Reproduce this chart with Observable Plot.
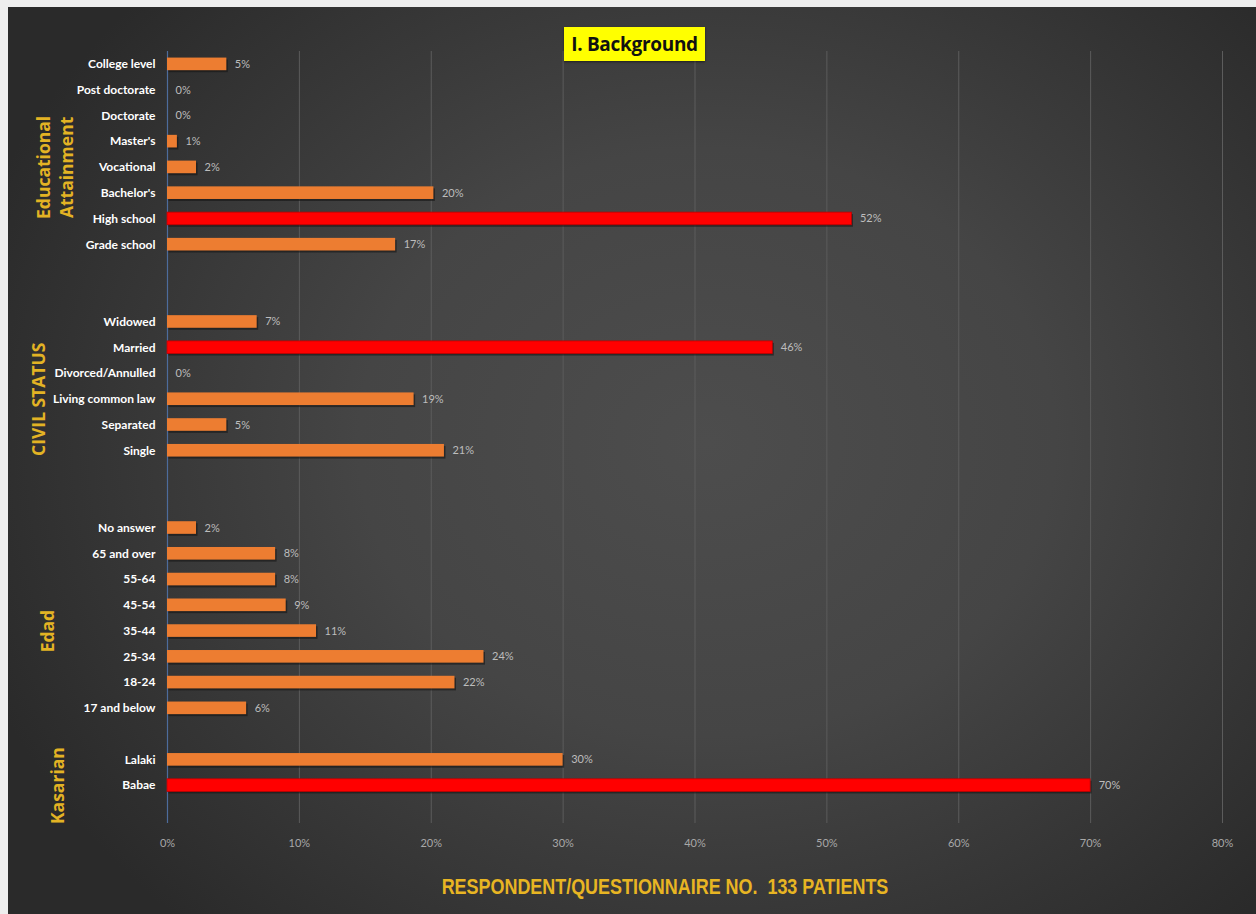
<!DOCTYPE html>
<html>
<head>
<meta charset="utf-8">
<script src="https://cdn.jsdelivr.net/npm/d3@7"></script>
<script src="https://cdn.jsdelivr.net/npm/@observablehq/plot@0.6"></script>
<style>
  html, body { margin: 0; padding: 0; background: #eeeeee; width: 1256px; height: 914px; overflow: hidden; }
  #panel { position: absolute; left: 8px; top: 7px; width: 1248px; height: 907px;
    background: radial-gradient(ellipse 62% 72% at 56% 48%, #4d4d4d 0%, #454545 45%, #2a2a2a 100%); }
  #chart { position: absolute; left: 0; top: 0; }
  #title { position: absolute; left: 564px; top: 27px; width: 141px; height: 34px; background: #ffff00;
    font-family: "Open Sans", sans-serif; font-weight: bold; font-size: 19px; line-height: 34px;
    text-align: center; color: #111; box-shadow: 0 1px 2px rgba(0,0,0,0.5); letter-spacing: -0.3px; }
  #caption { position: absolute; left: 365px; width: 600px; top: 874px; text-align: center; white-space: pre;
    font-family: "Liberation Sans", sans-serif; font-weight: bold; font-size: 22px; color: #e8b523;
    transform: scaleX(0.815); transform-origin: 300px 50%; }
</style>
</head>
<body>
<div id="panel"></div>
<div id="chart"></div>
<div id="title">I. Background</div>
<div id="caption">RESPONDENT/QUESTIONNAIRE NO.  133 PATIENTS</div>
<script>
// ---- data ----
const eduLabels = ["College level", "Post doctorate", "Doctorate", "Master's", "Vocational", "Bachelor's", "High school", "Grade school"];
const eduValues = [0.045, 0, 0, 0.0075, 0.022, 0.202, 0.519, 0.173];
const civilLabels = ["Widowed", "Married", "Divorced/Annulled", "Living common law", "Separated", "Single"];
const civilValues = [0.068, 0.459, 0, 0.187, 0.045, 0.21];
const ageLabels = ["No answer", "65 and over", "55-64", "45-54", "35-44", "25-34", "18-24", "17 and below"];
const ageValues = [0.022, 0.082, 0.082, 0.09, 0.113, 0.24, 0.218, 0.06];
const sexLabels = ["Lalaki", "Babae"];
const sexValues = [0.30, 0.70];
const highlighted = ["High school", "Married", "Babae"];
const groupNames = ["Educational\nAttainment", "CIVIL STATUS", "Edad", "Kasarian"];
const groupAnchors = ["Vocational", "Living common law", "35-44", "Babae"];
const xTickValues = [0, 0.1, 0.2, 0.3, 0.4, 0.5, 0.6, 0.7, 0.8];
const xTickLabels = ["0%", "10%", "20%", "30%", "40%", "50%", "60%", "70%", "80%"];

// ---- build rows ----
const rows = [];
let gapN = 0;
const addGroup = (labels, values) => labels.forEach((l, i) => rows.push({key: l, label: l, value: values[i]}));
const addGap = () => rows.push({key: "gap" + (++gapN), label: "", value: null});
addGroup(eduLabels, eduValues); addGap(); addGap();
addGroup(civilLabels, civilValues); addGap(); addGap();
addGroup(ageLabels, ageValues); addGap();
addGroup(sexLabels, sexValues);

const bars = rows.filter(d => d.value !== null);
const orangeBars = bars.filter(d => !highlighted.includes(d.label));
const redBars = bars.filter(d => highlighted.includes(d.label));
const groups = groupNames.map((n, i) => ({name: n, anchor: groupAnchors[i]}));
const ticks = xTickValues.map((v, i) => ({v, label: xTickLabels[i]}));

const labelFont = "Lato, 'Open Sans', sans-serif";
const groupStyle = {y: "anchor", text: "name", frameAnchor: "left", rotate: -90,
  textAnchor: "middle", lineAnchor: "middle", lineHeight: 1.3, fill: "#e3b324",
  fontSize: 17.5, fontWeight: "bold", fontFamily: "'Open Sans', sans-serif"};
const groupLabelDx = [-113, -130, -121, -111];

const plot = Plot.plot({
  width: 1256,
  height: 914,
  marginLeft: 167,
  marginRight: 34,
  marginTop: 51,
  marginBottom: 91,
  insetBottom: 25,
  style: {background: "transparent", overflow: "visible"},
  x: {domain: [0, 0.8], axis: null},
  y: {domain: rows.map(d => d.key), axis: null, paddingInner: 0.51, paddingOuter: 0.255, round: false},
  marks: [
    Plot.ruleX(ticks.filter(t => t.v > 0), {x: "v", stroke: "#5c5c5c", strokeWidth: 1}),
    Plot.ruleX([0], {stroke: "#4d6c9c", strokeWidth: 1.2}),
    Plot.barX(bars, {x: "value", y: "key", fill: "#151515", fillOpacity: 0.6, dx: 1.5, dy: 2}),
    Plot.barX(orangeBars, {x: "value", y: "key", fill: "#ed7d31"}),
    Plot.barX(redBars, {x: "value", y: "key", fill: "#ff0000", stroke: "#c00000", strokeWidth: 0.8}),
    Plot.text(bars, {x: "value", y: "key", text: d => Math.round(d.value * 100) + "%", textAnchor: "start",
      dx: 8, fill: "#bdbdbd", fontSize: 11, fontFamily: labelFont}),
    Plot.text(rows, {y: "key", text: "label", frameAnchor: "left", textAnchor: "end", dx: -12,
      fill: "#ffffff", fontSize: 12, fontWeight: "bold", fontFamily: labelFont}),
    Plot.text(ticks, {x: "v", text: "label", frameAnchor: "bottom", dy: 23, fill: "#a8a8a8",
      fontSize: 11, fontFamily: labelFont}),
    ...groups.map((g, i) => Plot.text([g], {...groupStyle, dx: groupLabelDx[i]}))
  ]
});
document.getElementById("chart").appendChild(plot);
</script>
</body>
</html>
